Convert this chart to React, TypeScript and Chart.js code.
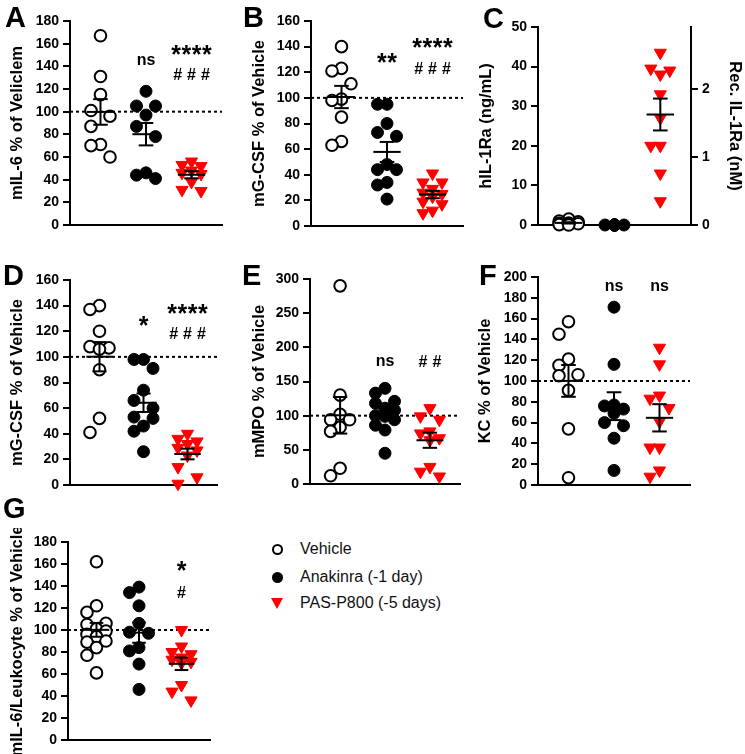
import React, { useEffect, useRef } from 'react';
import { Chart, registerables } from 'chart.js';
Chart.register(...registerables);

const FONT = "'Liberation Sans', Arial, Helvetica, sans-serif";

const groupNames = ['Vehicle', 'Anakinra (-1 day)', 'PAS-P800 (-5 days)'];

// Panel A: mIL-6
const vehicleA = [167, 131, 115, 101, 96, 87, 71, 70, 60];
const anakinraA = [118, 105, 105, 97, 87, 78, 46, 44, 41];
const pasA = [56, 53, 52, 48, 46, 45, 38, 31, 30];
// Panel B: mG-CSF
const vehicleB = [140, 123, 121, 111, 99, 98, 85, 66, 63];
const anakinraB = [95, 95, 80, 73, 70, 48, 44, 44, 34, 32, 21];
const pasB = [41, 34, 34, 29, 26, 25, 23, 19, 17, 12, 10];
// Panel C: hIL-1Ra (ng/mL)
const vehicleC = [1.5, 1.0, 0.8, 0.5, 0.4, 0.3, 0.2, 0.1, 0];
const anakinraC = [0, 0, 0, 0, 0, 0, 0, 0, 0, 0];
const pasC = [43.5, 39.5, 39, 38, 33, 27, 20, 20, 13, 6];
const ngPerNM = 17.2;
// Panel D: mG-CSF
const vehicleD = [140, 137, 120, 108, 107, 106, 90, 52, 41];
const anakinraD = [98, 98, 91, 74, 66, 60, 53, 52, 46, 42, 26];
const pasD = [40, 36, 34, 32, 29, 27, 23, 14, 6, 1];
// Panel E: mMPO
const vehicleE = [290, 130, 102, 94, 94, 83, 77, 23, 12];
const anakinraE = [140, 133, 121, 118, 111, 108, 100, 99, 94, 86, 79, 45];
const pasE = [111, 99, 94, 77, 74, 67, 64, 25, 18, 11];
// Panel F: KC
const vehicleF = [157, 145, 121, 115, 106, 105, 91, 54, 7];
const anakinraF = [171, 116, 77, 76, 73, 69, 60, 57, 45, 14];
const pasF = [132, 116, 86, 83, 74, 61, 36, 36, 14, 8];
// Panel G: mIL-6/Leukocyte
const vehicleG = [162, 122, 116, 106, 105, 101, 99, 96, 94, 90, 89, 84, 77, 61];
const anakinraG = [139, 134, 122, 106, 98, 97, 84, 81, 69, 46];
const pasG = [100, 85, 80, 78, 75, 73, 71, 70, 50, 44, 36];

type Annot = { g: number; y: number; text: string };
const annotA: Annot[] = [{ g: 2, y: 145, text: 'ns' }, { g: 3, y: 154, text: '****' }, { g: 3, y: 133, text: '###' }];
const annotB: Annot[] = [{ g: 2, y: 131, text: '**' }, { g: 3, y: 143, text: '****' }, { g: 3, y: 123, text: '###' }];
const annotC: Annot[] = [];
const annotD: Annot[] = [{ g: 2, y: 128, text: '*' }, { g: 3, y: 137, text: '****' }, { g: 3, y: 118.5, text: '###' }];
const annotE: Annot[] = [{ g: 2, y: 180, text: 'ns' }, { g: 3, y: 180, text: '##' }];
const annotF: Annot[] = [{ g: 2, y: 191, text: 'ns' }, { g: 3, y: 191, text: 'ns' }];
const annotG: Annot[] = [{ g: 3, y: 158, text: '*' }, { g: 3, y: 135, text: '#' }];

interface PanelCfg {
  letter: string; letterX: number; letterTop: number;
  title: string; titleX: number;
  axisX: number; axisEnd: number; yTop: number; yBottom: number;
  yMax: number; step: number;
  groups: number[][]; annots: Annot[]; refLine: boolean;
  right?: { title: string; max: number; canvasRight: number };
}

const panels: PanelCfg[] = [
  { letter: 'A', letterX: 5, letterTop: 7, title: 'mIL-6 % of Veliclem', titleX: 18, axisX: 70, axisEnd: 222, yTop: 21, yBottom: 225, yMax: 180, step: 20, groups: [vehicleA, anakinraA, pasA], annots: annotA, refLine: true },
  { letter: 'B', letterX: 243, letterTop: 7, title: 'mG-CSF % of Vehicle', titleX: 260, axisX: 311, axisEnd: 463, yTop: 21, yBottom: 226, yMax: 160, step: 20, groups: [vehicleB, anakinraB, pasB], annots: annotB, refLine: true },
  { letter: 'C', letterX: 483, letterTop: 8, title: 'hIL-1Ra (ng/mL)', titleX: 487, axisX: 538, axisEnd: 691, yTop: 27, yBottom: 225, yMax: 50, step: 10, groups: [vehicleC, anakinraC, pasC], annots: annotC, refLine: false, right: { title: 'Rec. IL-1Ra (nM)', max: 50 / ngPerNM, canvasRight: 745 } },
  { letter: 'D', letterX: 3, letterTop: 265, title: 'mG-CSF % of Vehicle', titleX: 18, axisX: 70, axisEnd: 217, yTop: 280, yBottom: 485, yMax: 160, step: 20, groups: [vehicleD, anakinraD, pasD], annots: annotD, refLine: true },
  { letter: 'E', letterX: 242, letterTop: 265, title: 'mMPO % of Vehicle', titleX: 260, axisX: 310, axisEnd: 460, yTop: 279, yBottom: 484, yMax: 300, step: 50, groups: [vehicleE, anakinraE, pasE], annots: annotE, refLine: true },
  { letter: 'F', letterX: 479, letterTop: 265, title: 'KC % of Vehicle', titleX: 486, axisX: 538, axisEnd: 690, yTop: 277, yBottom: 485, yMax: 200, step: 20, groups: [vehicleF, anakinraF, pasF], annots: annotF, refLine: true },
  { letter: 'G', letterX: 3, letterTop: 498, title: 'mIL-6/Leukocyte % of Vehicle', titleX: 18, axisX: 68, axisEnd: 210, yTop: 542, yBottom: 740, yMax: 180, step: 20, groups: [vehicleG, anakinraG, pasG], annots: annotG, refLine: true },
];

const X_MIN = 0.33;
const X_MAX = 3.67;

function swarm(values: number[], pxY: number, pxX: number): number[] {
  const stepPx = 9.5;
  const diam = 16;
  const order = values.map((_, i) => i).sort((a, b) => values[b] - values[a]);
  const placed: { x: number; y: number }[] = [];
  const offs = new Array(values.length).fill(0);
  for (const i of order) {
    const y = values[i] * pxY;
    let best = 0;
    let bestScore = -Infinity;
    for (const c of [0, -1, 1]) {
      const x = c * stepPx;
      let minD = Infinity;
      for (const p of placed) minD = Math.min(minD, Math.hypot(p.x - x, p.y - y));
      if (minD >= diam) { best = c; break; }
      if (minD > bestScore + 0.5) { bestScore = minD; best = c; }
    }
    offs[i] = (best * stepPx) / pxX;
    placed.push({ x: best * stepPx, y });
  }
  return offs;
}

function canvasRect(cfg: PanelCfg) {
  const left = Math.round(cfg.titleX - 13.9);
  const top = cfg.yTop - 14;
  const right = cfg.right ? cfg.right.canvasRight : cfg.axisEnd + 10;
  const bottom = Math.min(754, cfg.yBottom + 14);
  return { left, top, w: right - left, h: bottom - top };
}

function drawSpaced(ctx: CanvasRenderingContext2D, text: string, cx: number, cy: number, spacing: number) {
  const chars = text.split('');
  const widths = chars.map((c) => ctx.measureText(c).width);
  const total = widths.reduce((a, b) => a + b, 0) + spacing * (chars.length - 1);
  const m = ctx.measureText(text);
  const base = cy + (m.actualBoundingBoxAscent - m.actualBoundingBoxDescent) / 2;
  let x = cx - total / 2;
  ctx.textAlign = 'left';
  ctx.textBaseline = 'alphabetic';
  chars.forEach((c, i) => {
    ctx.fillText(c, x, base);
    x += widths[i] + spacing;
  });
}

function buildChart(canvas: HTMLCanvasElement, cfg: PanelCfg) {
  const r = canvasRect(cfg);
  const plotW = cfg.axisEnd - cfg.axisX;
  const plotH = cfg.yBottom - cfg.yTop;
  const pxX = plotW / (X_MAX - X_MIN);
  const pxY = plotH / cfg.yMax;
  const styles = [
    { ps: 'circle', rad: 5.8, bg: '#ffffff', bc: '#000000', bw: 2, rot: 0 },
    { ps: 'circle', rad: 6, bg: '#000000', bc: '#000000', bw: 1, rot: 0 },
    { ps: 'triangle', rad: 7, bg: '#ff0000', bc: '#ff0000', bw: 1, rot: 180 },
  ];
  const datasets: any[] = cfg.groups.map((vals, gi) => {
    const offs = swarm(vals, pxY, pxX);
    const s = styles[gi];
    return {
      type: 'scatter',
      label: groupNames[gi],
      data: vals.map((v, i) => ({ x: gi + 1 + offs[i], y: v })),
      pointStyle: s.ps,
      pointRadius: s.rad,
      pointBackgroundColor: s.bg,
      pointBorderColor: s.bc,
      pointBorderWidth: s.bw,
      pointRotation: s.rot,
      order: 1,
      clip: false,
      yAxisID: 'y',
    };
  });
  if (cfg.refLine) {
    datasets.push({
      type: 'line',
      data: [{ x: X_MIN, y: 100 }, { x: X_MAX, y: 100 }],
      borderColor: '#000000',
      borderWidth: 2,
      borderDash: [3, 3],
      pointRadius: 0,
      showLine: true,
      order: 10,
      clip: false,
      yAxisID: 'y',
    });
  }
  const tickFont = { family: FONT, size: 14, weight: 'bold' as const };
  const titleFont = { family: FONT, size: 16.5, weight: 'bold' as const };
  const scales: any = {
    x: {
      type: 'linear', min: X_MIN, max: X_MAX,
      ticks: { display: false },
      grid: { display: true, drawOnChartArea: false, drawTicks: false },
      border: { display: true, color: '#000000', width: 2 },
      afterFit: (s: any) => { s.height = 0; },
    },
    y: {
      type: 'linear', position: 'left', min: 0, max: cfg.yMax,
      ticks: { stepSize: cfg.step, color: '#000000', font: tickFont, padding: 4 },
      grid: { display: true, drawOnChartArea: false, drawTicks: true, tickLength: 7, color: '#000000', lineWidth: 2 },
      border: { display: true, color: '#000000', width: 2 },
      title: { display: true, text: cfg.title, color: '#000000', font: titleFont, padding: { top: 4, bottom: 0 } },
      afterFit: (s: any) => { s.width = cfg.axisX - r.left; },
    },
  };
  let padRight = r.left + r.w - cfg.axisEnd;
  if (cfg.right) {
    const rw = cfg.right.canvasRight - cfg.axisEnd;
    padRight = 0;
    scales.y2 = {
      type: 'linear', position: 'right', min: 0, max: cfg.right.max,
      ticks: { stepSize: 1, includeBounds: false, color: '#000000', font: tickFont, padding: 4 },
      grid: { display: true, drawOnChartArea: false, drawTicks: true, tickLength: 7, color: '#000000', lineWidth: 2 },
      border: { display: true, color: '#000000', width: 2 },
      title: { display: true, text: cfg.right.title, color: '#000000', font: titleFont, padding: { top: 1, bottom: 0 } },
      afterFit: (s: any) => { s.width = rw; },
    };
  }
  const statsPlugin = {
    id: 'stats',
    afterDatasetsDraw(chart: any) {
      const { ctx } = chart;
      const x = chart.scales.x;
      const y = chart.scales.y;
      ctx.save();
      ctx.strokeStyle = '#000000';
      ctx.lineWidth = 2;
      ctx.setLineDash([]);
      const seg = (x1: number, y1: number, x2: number, y2: number) => {
        ctx.beginPath();
        ctx.moveTo(x.getPixelForValue(x1), y.getPixelForValue(y1));
        ctx.lineTo(x.getPixelForValue(x2), y.getPixelForValue(y2));
        ctx.stroke();
      };
      cfg.groups.forEach((vals, gi) => {
        const n = vals.length;
        const m = vals.reduce((a, b) => a + b, 0) / n;
        const sd = Math.sqrt(vals.reduce((a, b) => a + (b - m) * (b - m), 0) / (n - 1));
        const sem = sd / Math.sqrt(n);
        const g = gi + 1;
        seg(g - 0.3, m, g + 0.3, m);
        if (sem > 0.01) {
          seg(g, m - sem, g, m + sem);
          seg(g - 0.16, m + sem, g + 0.16, m + sem);
          seg(g - 0.16, m - sem, g + 0.16, m - sem);
        }
      });
      ctx.fillStyle = '#000000';
      for (const a of cfg.annots) {
        const isStar = a.text.includes('*');
        const isHash = a.text.includes('#');
        const size = isStar ? 25 : 16;
        const spacing = isStar ? 0.5 : isHash ? 5 : 0;
        ctx.font = `bold ${size}px ${FONT}`;
        drawSpaced(ctx, a.text, x.getPixelForValue(a.g), y.getPixelForValue(a.y), spacing);
      }
      ctx.restore();
    },
  };
  return new Chart(canvas, {
    type: 'scatter',
    data: { datasets },
    options: {
      responsive: false,
      maintainAspectRatio: false,
      animation: false,
      devicePixelRatio: 1,
      events: [],
      layout: {
        autoPadding: false,
        padding: { left: 0, top: cfg.yTop - r.top, right: padRight, bottom: r.top + r.h - cfg.yBottom },
      },
      plugins: { legend: { display: false }, tooltip: { enabled: false }, title: { display: false } },
      scales,
    } as any,
    plugins: [statsPlugin],
  });
}

function Panel({ cfg }: { cfg: PanelCfg }) {
  const ref = useRef<HTMLCanvasElement>(null);
  const r = canvasRect(cfg);
  useEffect(() => {
    const chart = buildChart(ref.current!, cfg);
    return () => chart.destroy();
  }, []);
  return (
    <>
      <canvas ref={ref} width={r.w} height={r.h}
        style={{ position: 'absolute', left: r.left, top: r.top, width: r.w, height: r.h }} />
      <div style={{ position: 'absolute', left: cfg.letterX, top: cfg.letterTop - 3.7, fontFamily: FONT, fontWeight: 'bold', fontSize: 29, lineHeight: '29px', color: '#000' }}>
        {cfg.letter}
      </div>
    </>
  );
}

function Legend() {
  const items = [
    { label: groupNames[0], cy: 549, marker: <div style={{ width: 7, height: 7, border: '2px solid #000', borderRadius: '50%', background: '#fff' }} /> },
    { label: groupNames[1], cy: 577, marker: <div style={{ width: 11, height: 11, borderRadius: '50%', background: '#000' }} /> },
    { label: groupNames[2], cy: 603, marker: <div style={{ width: 0, height: 0, borderLeft: '6px solid transparent', borderRight: '6px solid transparent', borderTop: '11px solid #ff0000' }} /> },
  ];
  return (
    <>
      {items.map((it, i) => (
        <React.Fragment key={i}>
          <div style={{ position: 'absolute', left: 271, top: it.cy - 6, width: 12, height: 12, display: 'flex', alignItems: 'center', justifyContent: 'center' }}>
            {it.marker}
          </div>
          <div style={{ position: 'absolute', left: 300, top: it.cy - 10, height: 20, lineHeight: '20px', fontFamily: FONT, fontSize: 16, color: '#111', whiteSpace: 'nowrap' }}>
            {it.label}
          </div>
        </React.Fragment>
      ))}
    </>
  );
}

export default function App() {
  return (
    <div style={{ position: 'absolute', left: 0, top: 0, width: 745, height: 754, overflow: 'hidden', background: '#fff' }}>
      {panels.map((p) => <Panel key={p.letter} cfg={p} />)}
      <Legend />
    </div>
  );
}
